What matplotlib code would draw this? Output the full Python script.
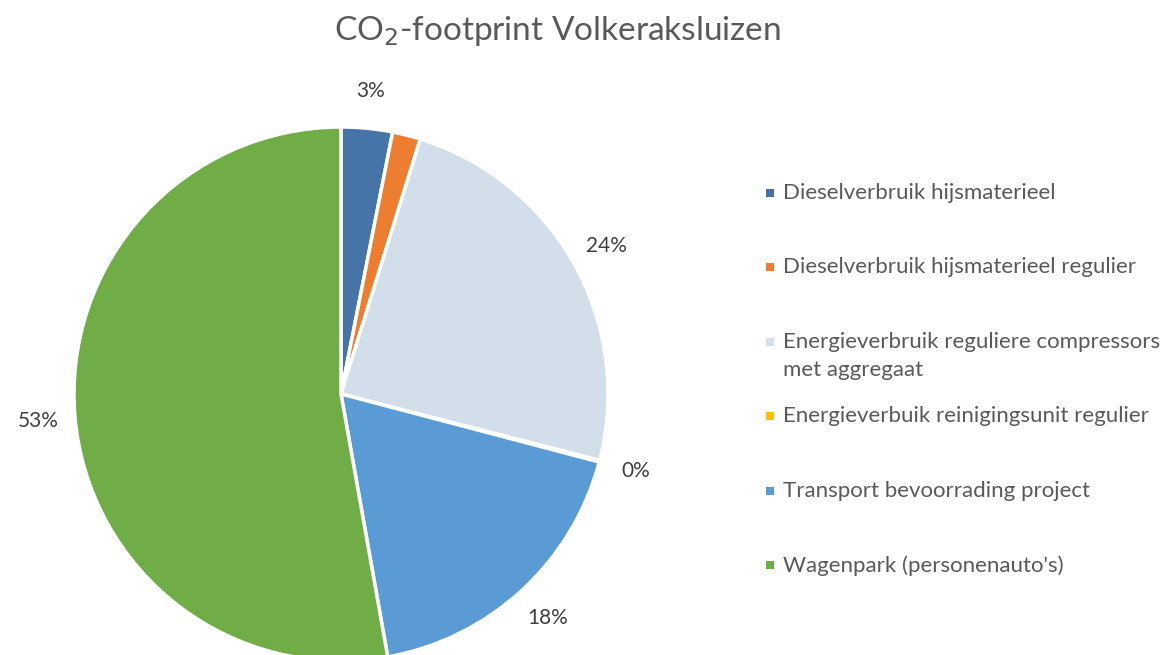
import numpy as np
import matplotlib.pyplot as plt
from matplotlib.patches import Rectangle

categories = [
    "Dieselverbruik hijsmaterieel",
    "Dieselverbruik hijsmaterieel regulier",
    "Energieverbruik reguliere compressors\nmet aggregaat",
    "Energieverbuik reinigingsunit regulier",
    "Transport bevoorrading project",
    "Wagenpark (personenauto's)",
]
shares = [3.1, 1.7, 24.2, 0.1, 18.1, 52.8]
show_label = [True, False, True, True, True, True]
colors = ["#4674A8", "#ED7D31", "#D2DFEA", "#FFC000", "#5B9BD5", "#70AD47"]

W, H = 1171, 655
plt.rcParams["font.family"] = ["Lato", "DejaVu Sans"]
fig = plt.figure(figsize=(W / 100, H / 100), dpi=100)

# pie centre (341, 394) px, radius 267 px
cx, cy, r = 341, H - 394, 267
lim = 1.3
ax = fig.add_axes([(cx - r * lim) / W, (cy - r * lim) / H, 2 * r * lim / W, 2 * r * lim / H])
wedges, _ = ax.pie(shares, colors=colors, startangle=90, counterclock=False, radius=1,
                   wedgeprops=dict(edgecolor="white", linewidth=2.5))
ax.set_xlim(-lim, lim)
ax.set_ylim(-lim, lim)
ax.set_aspect("equal")
ax.axis("off")

total = sum(shares)
for w, v, show in zip(wedges, shares, show_label):
    if not show:
        continue
    mid = np.deg2rad((w.theta1 + w.theta2) / 2)
    d = 1.14
    ax.text(d * np.cos(mid), d * np.sin(mid), f"{round(v / total * 100):.0f}%",
            ha="center", va="center", fontsize=15, color="#404040")

fig.text(557 / W, 1 - 31 / H, "CO$_2$-footprint Volkeraksluizen", ha="center", va="center",
         fontsize=24, color="#595959")

# legend
for i, (lab, col) in enumerate(zip(categories, colors)):
    y = 193 + 74.4 * i
    fig.patches.append(Rectangle((766 / W, 1 - (y + 4) / H), 8 / W, 8 / H,
                                 transform=fig.transFigure, facecolor=col, edgecolor="none"))
    fig.text(783 / W, 1 - (y - 10) / H, lab, ha="left", va="top", fontsize=16,
             color="#595959", linespacing=1.5)

fig.savefig("out.png", dpi=100)
